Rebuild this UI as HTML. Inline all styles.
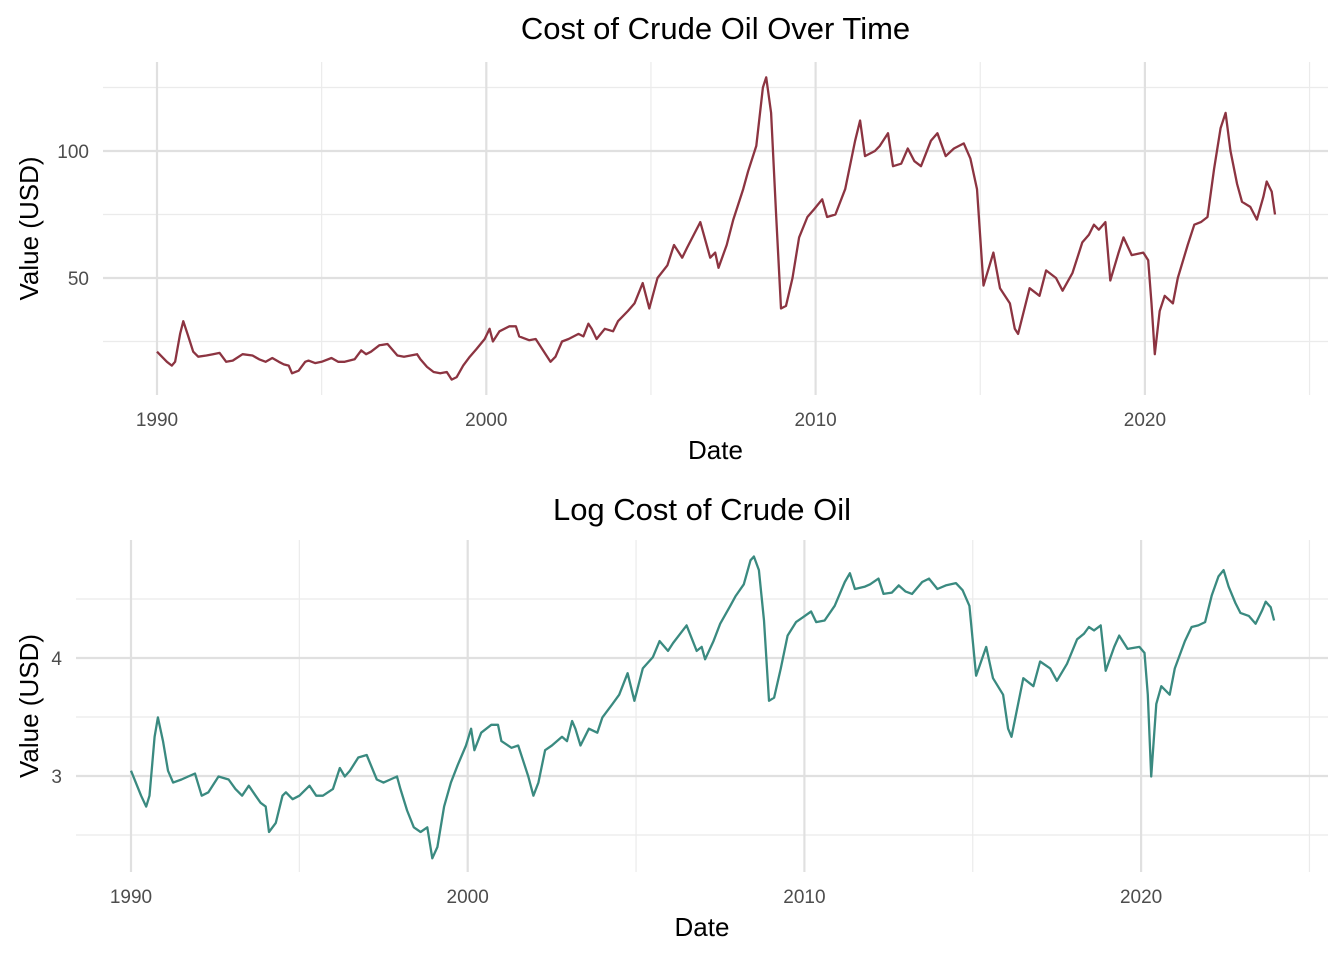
<!DOCTYPE html>
<html><head><meta charset="utf-8"><style>
body{margin:0;background:#fff;}
svg text{font-family:"Liberation Sans",Arial,sans-serif;}
</style></head><body>
<svg id="chart" width="1344" height="960" xmlns="http://www.w3.org/2000/svg"></svg>
<script>
const dates=[1990.0,1990.3,1990.45,1990.55,1990.7,1990.8,1990.95,1991.1,1991.25,1991.5,1991.7,1991.9,1992.1,1992.3,1992.6,1992.9,1993.1,1993.3,1993.5,1993.7,1993.85,1994.0,1994.1,1994.3,1994.5,1994.6,1994.8,1995.0,1995.3,1995.5,1995.7,1996.0,1996.2,1996.35,1996.5,1996.75,1997.0,1997.3,1997.5,1997.7,1997.9,1998.0,1998.2,1998.4,1998.6,1998.8,1998.95,1999.1,1999.3,1999.5,1999.7,1999.95,2000.1,2000.2,2000.4,2000.7,2000.9,2001.0,2001.3,2001.5,2001.8,2001.95,2002.1,2002.3,2002.5,2002.8,2002.95,2003.1,2003.2,2003.35,2003.6,2003.85,2004.0,2004.3,2004.5,2004.75,2004.95,2005.2,2005.5,2005.7,2005.95,2006.1,2006.5,2006.8,2006.95,2007.05,2007.3,2007.5,2007.8,2007.95,2008.2,2008.4,2008.5,2008.65,2008.8,2008.95,2009.1,2009.3,2009.5,2009.75,2009.95,2010.2,2010.35,2010.6,2010.9,2011.2,2011.35,2011.5,2011.8,2011.95,2012.2,2012.35,2012.6,2012.8,2013.0,2013.2,2013.5,2013.7,2013.95,2014.2,2014.5,2014.7,2014.9,2015.1,2015.4,2015.6,2015.9,2016.05,2016.15,2016.5,2016.8,2017.0,2017.3,2017.5,2017.8,2018.1,2018.3,2018.45,2018.6,2018.8,2018.95,2019.2,2019.35,2019.6,2019.95,2020.1,2020.2,2020.3,2020.45,2020.6,2020.85,2021.0,2021.3,2021.5,2021.7,2021.9,2022.1,2022.3,2022.45,2022.6,2022.8,2022.95,2023.2,2023.4,2023.6,2023.7,2023.85,2023.95];
const prices=[21,17,15.5,17,28,33,27,21,19,19.5,20,20.5,17,17.5,20,19.5,18,17,18.5,17,16,15.5,12.5,13.5,17,17.5,16.5,17,18.5,17,17,18,21.5,20,21,23.5,24,19.5,19,19.5,20,18,15,13,12.5,13,10,11,15.5,19,22,26,30,25,29,31,31,27,25.5,26,20,17,19,25,26,28,27,32,30,26,30,29,33,37,40,48,38,50,55,63,58,62,72,58,60,54,63,73,85,92,102,125,129,115,75,38,39,50,66,74,77,81,74,75,85,104,112,98,100,102,107,94,95,101,96,94,104,107,98,101,103,97,85,47,60,46,40,30,28,46,43,53,50,45,52,64,67,71,69,72,49,60,66,59,60,57,40,20,37,43,40,50,63,71,72,74,93,109,115,100,87,80,78,73,82,88,84,75];
const topYTicks=[50,100];
const botYTicks=[3,4];
const xTicks=[1990,2000,2010,2020];

const NS="http://www.w3.org/2000/svg";
const svg=document.getElementById('chart');
function el(tag,attrs,parent){const e=document.createElementNS(NS,tag);for(const k in attrs)e.setAttribute(k,attrs[k]);(parent||svg).appendChild(e);return e;}

function panel(cfg){
  const g=el('g',{});
  
  
  const xs=v=>cfg.x0+(v-1990)*cfg.xk;
  const ys=v=>cfg.y0-(v-cfg.yb)*cfg.yk;
  for(const t of cfg.minorY){const l=el('line',{x1:cfg.left,x2:cfg.right,y1:ys(t),y2:ys(t),stroke:'#ebebeb','stroke-width':1.2},g);}
  for(let y=1995;y<=2025;y+=10){const l=el('line',{x1:xs(y),x2:xs(y),y1:cfg.top,y2:cfg.bottom,stroke:'#ebebeb','stroke-width':1.2},g);}
  for(const t of cfg.yTicks){const l=el('line',{x1:cfg.left,x2:cfg.right,y1:ys(t),y2:ys(t),stroke:'#e0e0e0','stroke-width':2.2},g);
    const tx=el('text',{x:cfg.left-14,y:ys(t)+7,'text-anchor':'end','font-size':19,fill:'#4d4d4d'},g);tx.textContent=cfg.fmt(t);}
  for(const t of xTicks){const l=el('line',{x1:xs(t),x2:xs(t),y1:cfg.top,y2:cfg.bottom,stroke:'#e0e0e0','stroke-width':2.2},g);
    const tx=el('text',{x:xs(t),y:cfg.bottom+31,'text-anchor':'middle','font-size':19,fill:'#4d4d4d'},g);tx.textContent=t;}
  let d='';dates.forEach((dt,i)=>{const v=cfg.tf(prices[i]);d+=(i?'L':'M')+xs(dt).toFixed(1)+','+ys(v).toFixed(1);});
  const p=el('path',{d:d,fill:'none',stroke:cfg.color,'stroke-width':2.3,'stroke-linejoin':'round'},g);
  
  const ti=el('text',{x:(cfg.left+cfg.right)/2,y:cfg.titleY,'text-anchor':'middle','font-size':31,fill:'#000'},g);ti.textContent=cfg.title;
  const xt=el('text',{x:(cfg.left+cfg.right)/2,y:cfg.bottom+64,'text-anchor':'middle','font-size':26,fill:'#000'},g);xt.textContent='Date';
  const cy=(cfg.top+cfg.bottom)/2;
  const yt=el('text',{x:0,y:0,'text-anchor':'middle','font-size':26,fill:'#000',transform:`translate(${cfg.yTitleX},${cy}) rotate(-90)`},g);yt.textContent='Value (USD)';
}
panel({name:'price-panel',title:'Cost of Crude Oil Over Time',titleY:39,x0:157,xk:32.93,y0:151,yb:100,yk:2.54,left:103,right:1328,top:62,bottom:395,minorY:[25,75,125],yTicks:topYTicks,fmt:t=>t,tf:v=>v,color:'#8c3441',yTitleX:38});
panel({name:'log-price-panel',title:'Log Cost of Crude Oil',titleY:520,x0:131,xk:33.67,y0:658,yb:4,yk:118,left:76,right:1328,top:540,bottom:872,minorY:[2.5,3.5,4.5],yTicks:botYTicks,fmt:t=>t,tf:v=>Math.log(v),color:'#3a8a80',yTitleX:38});
</script>
</body></html>
